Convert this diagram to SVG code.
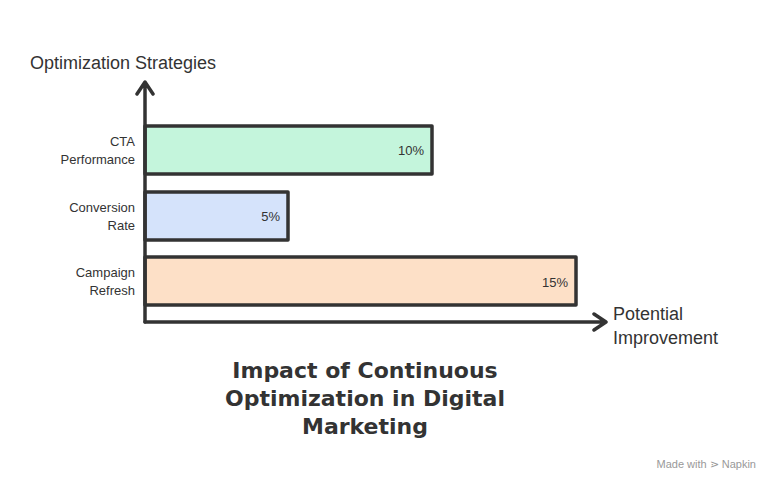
<svg xmlns="http://www.w3.org/2000/svg" width="780" height="492" viewBox="0 0 780 492">
<style>
.lbl{font-family:"Liberation Sans",Arial,sans-serif;font-size:13px;fill:#333;text-anchor:end}
.ax{font-family:"Liberation Sans",Arial,sans-serif;font-size:18px;fill:#333}
.bar{fill:none;stroke:#333;stroke-width:3.5;stroke-linejoin:round}
.val{font-family:"Liberation Sans",Arial,sans-serif;font-size:13px;fill:#333;text-anchor:end}
.title{font-family:"DejaVu Sans",sans-serif;font-weight:bold;font-size:22px;fill:#333;text-anchor:middle}
.axis{stroke:#333;stroke-width:3.5;fill:none;stroke-linecap:round;stroke-linejoin:round}
</style>
<rect width="780" height="492" fill="#fff"/>
<g id="bar-cta"><rect x="145" y="126" width="287" height="48" fill="#c4f5dc"/><rect x="145" y="126" width="287" height="48" class="bar"/><text x="424" y="155" class="val">10%</text><text x="135" y="146" class="lbl">CTA</text><text x="135" y="164" class="lbl">Performance</text></g>
<g id="bar-conv"><rect x="145" y="192" width="143" height="48" fill="#d5e3fb"/><rect x="145" y="192" width="143" height="48" class="bar"/><text x="280" y="221" class="val">5%</text><text x="135" y="212" class="lbl">Conversion</text><text x="135" y="230" class="lbl">Rate</text></g>
<g id="bar-camp"><rect x="145" y="257" width="431" height="48" fill="#fde0c7"/><rect x="145" y="257" width="431" height="48" class="bar"/><text x="568" y="287" class="val">15%</text><text x="135" y="277" class="lbl">Campaign</text><text x="135" y="295" class="lbl">Refresh</text></g>
<g id="connectors"><path d="M145 322V84M137 94L145 82L153 94" class="axis"/><path d="M145 322H604M594 314L606 322L594 330" class="axis"/></g>
<text x="30" y="69" class="ax">Optimization Strategies</text>
<text x="613" y="320" class="ax">Potential</text>
<text x="613" y="344" class="ax">Improvement</text>
<text x="365" y="378" class="title">Impact of Continuous</text>
<text x="365" y="406" class="title">Optimization in Digital</text>
<text x="365" y="434" class="title">Marketing</text>
<text x="756" y="468" font-family="Liberation Sans,sans-serif" font-size="11" fill="#999" text-anchor="end">Made with ⋗ Napkin</text>
</svg>
